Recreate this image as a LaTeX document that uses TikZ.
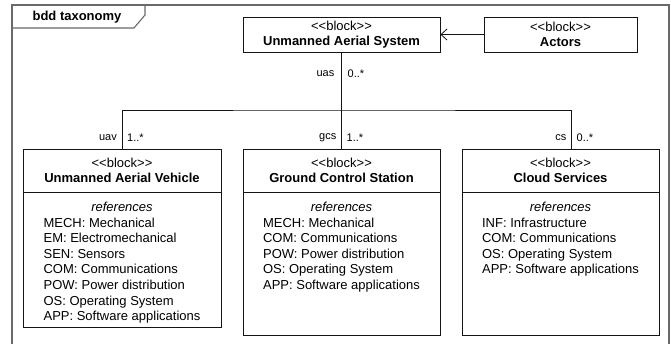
\documentclass[tikz,border=0pt]{standalone}
\usepackage{fontspec}
\setmainfont{Liberation Sans}
\usetikzlibrary{arrows.meta, positioning, calc}
\definecolor{framegray}{RGB}{105, 105, 105}
\definecolor{boxblack}{RGB}{20, 20, 20}

\newcommand{\stereo}{\textless\kern0pt\textless block\textgreater\kern0pt\textgreater}

\tikzset{
  blockhead/.style={draw=boxblack, line width=0.8pt, minimum width=197, minimum height=43,
    align=center, inner sep=0pt, font=\fontsize{13}{15}\selectfont},
  blockbody/.style={draw=boxblack, line width=0.8pt, minimum width=197, inner sep=0pt},
  reflist/.style={anchor=north, inner sep=0pt, font=\fontsize{13}{15.6}\selectfont},
  role/.style={inner sep=0pt, font=\fontsize{11}{13}\selectfont},
  conn/.style={draw=boxblack, line width=0.8pt},
  assoc/.style={conn, -{Straight Barb[length=6pt, width=11pt]}}
}

\begin{document}
\begin{tikzpicture}[x=1pt, y=-1pt]
  \useasboundingbox (0,0) rectangle (671,343);
  \clip (0,0) rectangle (671,343);

  % diagram frame
  \draw[framegray, line width=1.1pt] (12,360) -- (12,5) -- (669,5) -- (669,360);
  \draw[framegray, line width=1.1pt] (12,28) -- (134,28) -- (145,15) -- (145,5);
  \node[inner sep=0pt, font=\fontsize{13}{15}\selectfont\bfseries] (title) at (77,17) {bdd taxonomy};

  % top row
  \node[blockhead, minimum height=35] (uas) at (341.5,34.5) {\stereo\\\textbf{Unmanned Aerial System}};
  \node[blockhead, minimum width=153, minimum height=35] (actors) at (560.5,34.5) {\stereo\\\textbf{Actors}};
  \draw[assoc] (actors) -- (uas);

  % parts
  \node[blockhead, minimum width=198] (uav) at (122,170.5) {\stereo\\\textbf{Unmanned Aerial Vehicle}};
  \node[blockbody, minimum width=198, minimum height=135, below=0pt of uav] (uavbody) {};
  \node[reflist] (uavref) at ([yshift=-8pt]uavbody.north) {%
    \begin{tabular}{@{}l@{}}
      \multicolumn{1}{@{}c@{}}{\textit{references}}\\
      MECH: Mechanical\\
      EM: Electromechanical\\
      SEN: Sensors\\
      COM: Communications\\
      POW: Power distribution\\
      OS: Operating System\\
      APP: Software applications
    \end{tabular}};

  \node[blockhead] (gcs) at (341.5,170.5) {\stereo\\\textbf{Ground Control Station}};
  \node[blockbody, minimum height=143, below=0pt of gcs] (gcsbody) {};
  \node[reflist] (gcsref) at ([yshift=-8pt]gcsbody.north) {%
    \begin{tabular}{@{}l@{}}
      \multicolumn{1}{@{}c@{}}{\textit{references}}\\
      MECH: Mechanical\\
      COM: Communications\\
      POW: Power distribution\\
      OS: Operating System\\
      APP: Software applications
    \end{tabular}};

  \node[blockhead] (cs) at (560.5,170.5) {\stereo\\\textbf{Cloud Services}};
  \node[blockbody, minimum height=143, below=0pt of cs] (csbody) {};
  \node[reflist] (csref) at ([yshift=-8pt]csbody.north) {%
    \begin{tabular}{@{}l@{}}
      \multicolumn{1}{@{}c@{}}{\textit{references}}\\
      INF: Infrastructure\\
      COM: Communications\\
      OS: Operating System\\
      APP: Software applications
    \end{tabular}};

  % composition tree
  \coordinate (bus) at (uas.south |- 0,110);
  \coordinate (csdrop) at ([xshift=11pt]cs.north);
  \draw[conn] (uas.south) -- (bus);
  \draw[conn] (uav.north) |- (bus) -| (csdrop);
  \draw[conn] (gcs.north) -- (gcs.north |- bus);

  % role names and multiplicities
  \node[role, anchor=east] (uasname) at ($(uas.south)+(-7,21)$) {uas};
  \node[role, anchor=west] (uasmult) at ($(uas.south)+(6,21)$) {0..*};
  \node[role, anchor=east] (uavname) at ($(uav.north)+(-5,-11)$) {uav};
  \node[role, anchor=west] (uavmult) at ($(uav.north)+(5,-11)$) {1..*};
  \node[role, anchor=east] (gcsname) at ($(gcs.north)+(-5,-11)$) {gcs};
  \node[role, anchor=west] (gcsmult) at ($(gcs.north)+(5,-11)$) {1..*};
  \node[role, anchor=east] (csname) at ($(csdrop)+(-5,-11)$) {cs};
  \node[role, anchor=west] (csmult) at ($(csdrop)+(5,-11)$) {0..*};
\end{tikzpicture}
\end{document}
